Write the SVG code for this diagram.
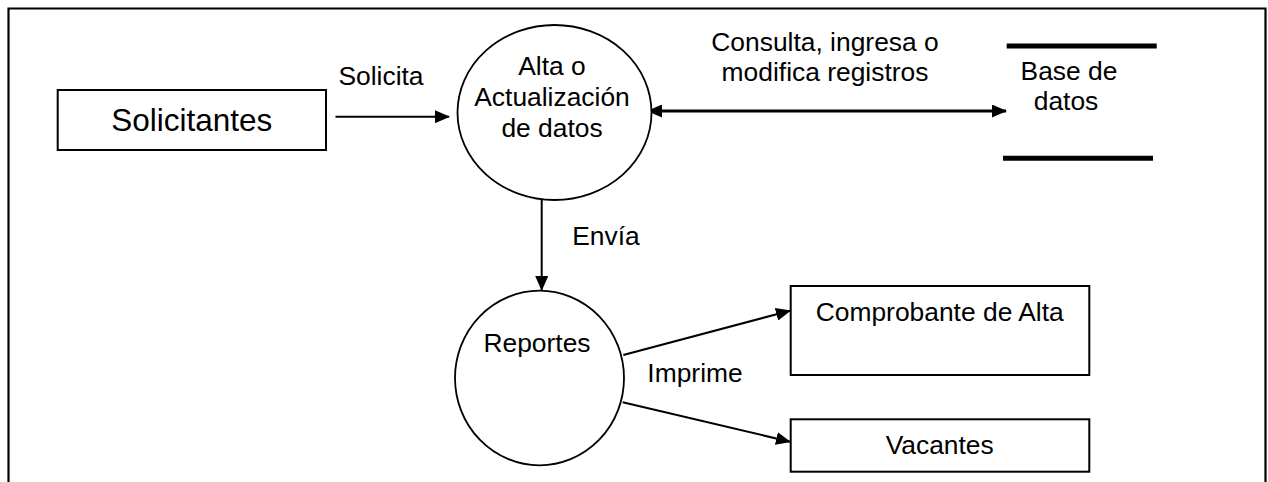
<svg xmlns="http://www.w3.org/2000/svg" width="1268" height="482" viewBox="0 0 1268 482">
<defs>
<style>
.t{font-family:"Liberation Sans",Arial,sans-serif;font-size:26.4px;fill:#000;text-anchor:middle}
.big{font-size:31.5px}
.box{fill:#fff;stroke:#000;stroke-width:2}
.proc{fill:#fff;stroke:#000;stroke-width:1.8}
.ln{stroke:#000;stroke-width:2;fill:none}
.thick{stroke:#000;stroke-width:3.2;fill:none}
.store{stroke:#000;stroke-width:5;fill:none}
</style>
<marker id="ah" viewBox="0 0 15 13" refX="14" refY="6.5" markerWidth="15" markerHeight="13" markerUnits="userSpaceOnUse" orient="auto-start-reverse">
<path d="M0,0 L15,6.5 L0,13 z" fill="#000"/>
</marker>
</defs>
<rect width="1268" height="482" fill="#fff"/>
<path d="M8.5,484 V8.5 H1265.5 V484" fill="none" stroke="#000" stroke-width="2.2"/>

<g id="connectors">
<line class="ln" x1="335.5" y1="116.7" x2="449" y2="116.7" marker-end="url(#ah)"/>
<line class="thick" x1="648" y1="111" x2="1006" y2="111" marker-start="url(#ah)" marker-end="url(#ah)"/>
<line class="ln" x1="541.7" y1="200" x2="541.7" y2="290" marker-end="url(#ah)"/>
<line class="ln" x1="623.3" y1="355" x2="790" y2="310.7" marker-end="url(#ah)"/>
<line class="ln" x1="622.7" y1="402.3" x2="790" y2="441.7" marker-end="url(#ah)"/>
<text class="t" x="381" y="85">Solicita</text>
<text class="t" x="825" y="50.7">Consulta, ingresa o</text>
<text class="t" x="825" y="80.7">modifica registros</text>
<text class="t" x="606" y="245">Envía</text>
<text class="t" x="695" y="381.7">Imprime</text>
</g>

<g id="solicitantes">
<rect class="box" x="57.7" y="90" width="268.3" height="60"/>
<text class="t big" x="191.8" y="131">Solicitantes</text>
</g>

<g id="alta">
<ellipse class="proc" cx="554.5" cy="112.5" rx="97" ry="87.5"/>
<text class="t" x="552" y="75">Alta o</text>
<text class="t" x="552" y="106">Actualización</text>
<text class="t" x="552" y="137">de datos</text>
</g>

<g id="basedatos">
<line class="store" x1="1006.7" y1="46" x2="1156.7" y2="46"/>
<line class="store" x1="1003" y1="158.3" x2="1153" y2="158.3"/>
<text class="t" x="1069" y="80">Base de</text>
<text class="t" x="1066" y="110">datos</text>
</g>

<g id="reportes">
<ellipse class="proc" cx="539.5" cy="378" rx="84.5" ry="87.3"/>
<text class="t" x="537" y="351.7">Reportes</text>
</g>

<g id="comprobante">
<rect class="box" x="790.7" y="286" width="298.6" height="89"/>
<text class="t" x="939.7" y="320.7">Comprobante de Alta</text>
</g>

<g id="vacantes">
<rect class="box" x="790.7" y="419.3" width="298.6" height="52.4"/>
<text class="t" x="939.7" y="454">Vacantes</text>
</g>
</svg>
